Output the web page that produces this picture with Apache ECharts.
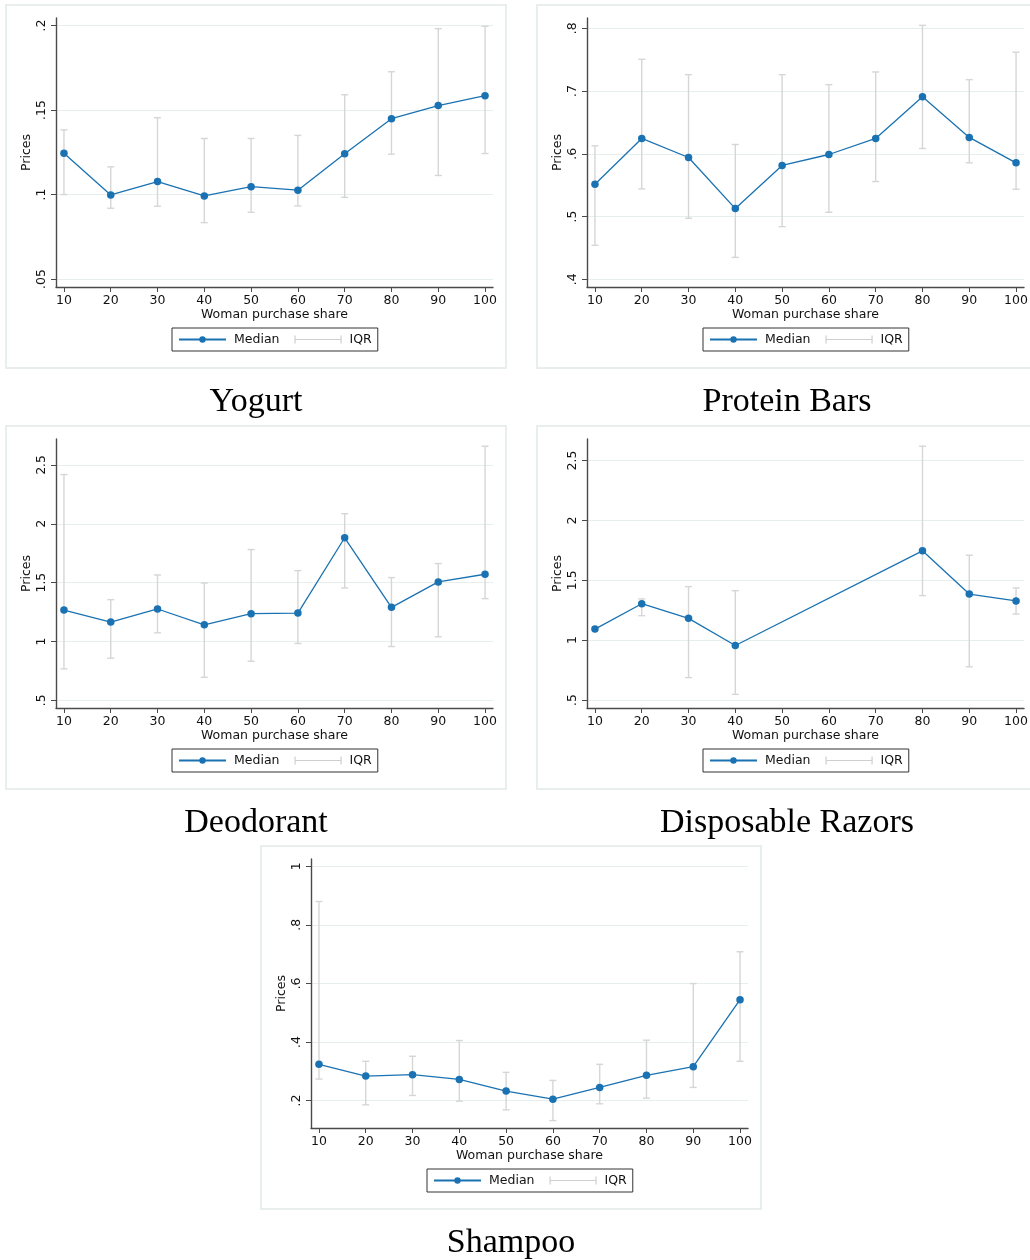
<!DOCTYPE html>
<html>
<head>
<meta charset="utf-8">
<script src="https://cdn.jsdelivr.net/npm/echarts@6/dist/echarts.min.js"></script>
<style>
  html, body { margin: 0; padding: 0; background: #ffffff; }
  #chart { width: 1030px; height: 1260px; }
</style>
</head>
<body>
<div id="chart"></div>
<script>
// Woman purchase share bins (x axis)
const shares = [10, 20, 30, 40, 50, 60, 70, 80, 90, 100];
const razorShares = [10, 20, 30, 40, 80, 90, 100];

// Yogurt
const yogurtMedian = [0.1245, 0.0998, 0.1077, 0.0992, 0.1047, 0.1026, 0.1241, 0.1449, 0.1527, 0.1585];
const yogurtLow    = [0.1000, 0.0919, 0.0931, 0.0834, 0.0895, 0.0933, 0.0984, 0.1239, 0.1113, 0.1243];
const yogurtHigh   = [0.1383, 0.1164, 0.1455, 0.1332, 0.1332, 0.1350, 0.1591, 0.1727, 0.1982, 0.1996];
const yogurtTicks  = [0.05, 0.1, 0.15, 0.2];

// Protein Bars
const proteinMedian = [0.5515, 0.6245, 0.5941, 0.5127, 0.5814, 0.5989, 0.6245, 0.6911, 0.6261, 0.5856];
const proteinLow    = [0.4541, 0.5441, 0.4972, 0.4349, 0.4839, 0.5068, 0.5558, 0.6085, 0.5856, 0.5435];
const proteinHigh   = [0.6128, 0.7507, 0.7262, 0.6149, 0.7262, 0.7103, 0.7305, 0.8048, 0.7182, 0.7619];
const proteinTicks  = [0.4, 0.5, 0.6, 0.7, 0.8];

// Deodorant
const deodorantMedian = [1.267, 1.165, 1.276, 1.142, 1.236, 1.241, 1.881, 1.290, 1.506, 1.571];
const deodorantLow    = [0.767, 0.858, 1.074, 0.696, 0.832, 0.983, 1.455, 0.957, 1.040, 1.364];
const deodorantHigh   = [2.418, 1.355, 1.565, 1.497, 1.781, 1.602, 2.085, 1.543, 1.662, 2.659];
const deodorantTicks  = [0.5, 1, 1.5, 2, 2.5];

// Disposable Razors (no observations in the 50-70 bins)
const razorMedian = [1.092, 1.304, 1.182, 0.955, 1.746, 1.385, 1.327];
const razorLow    = [null, 1.204, 0.687, 0.547, 1.372, 0.777, 1.218];
const razorHigh   = [null, 1.344, 1.447, 1.413, 2.620, 1.709, 1.436];
const razorTicks  = [0.5, 1, 1.5, 2, 2.5];

// Shampoo
const shampooMedian = [0.3236, 0.2835, 0.2881, 0.2721, 0.2320, 0.2046, 0.2446, 0.2858, 0.3156, 0.5445];
const shampooLow    = [0.2732, 0.1851, 0.2172, 0.1977, 0.1680, 0.1313, 0.1886, 0.2080, 0.2446, 0.3339];
const shampooHigh   = [0.8798, 0.3339, 0.3511, 0.4049, 0.2961, 0.2687, 0.3236, 0.4060, 0.5994, 0.7081];
const shampooTicks  = [0.2, 0.4, 0.6, 0.8, 1];

const titles = ['Yogurt', 'Protein Bars', 'Deodorant', 'Disposable Razors', 'Shampoo'];

// Panel content and placement
const panels = [
  { title: titles[0], x: shares, med: yogurtMedian, lo: yogurtLow, hi: yogurtHigh, ticks: yogurtTicks, yMin: 0.0453, yMax: 0.2045, dx: 0, dy: 0 },
  { title: titles[1], x: shares, med: proteinMedian, lo: proteinLow, hi: proteinHigh, ticks: proteinTicks, yMin: 0.3877, yMax: 0.8165, dx: 531, dy: 0 },
  { title: titles[2], x: shares, med: deodorantMedian, lo: deodorantLow, hi: deodorantHigh, ticks: deodorantTicks, yMin: 0.435, yMax: 2.72, dx: 0, dy: 421 },
  { title: titles[3], x: razorShares, med: razorMedian, lo: razorLow, hi: razorHigh, ticks: razorTicks, yMin: 0.433, yMax: 2.68, dx: 531, dy: 421 },
  { title: titles[4], x: shares, med: shampooMedian, lo: shampooLow, hi: shampooHigh, ticks: shampooTicks, yMin: 0.106, yMax: 1.025, dx: 255, dy: 841 }
];

const BLUE = '#1a72b2';
const IQR_GREY = '#d6d6d6';
const AXIS = '#4a4a4a';
const GRIDLINE = '#e6eeee';
const FRAME = '#e8eeee';
const SANS = '"DejaVu Sans", sans-serif';
const SERIF = '"Liberation Serif", "Times New Roman", serif';

function fmtTick(v) {
  return String(+(+v).toFixed(3)).replace(/^0\./, '.');
}

const grid = [], xAxis = [], yAxis = [], series = [], legend = [], graphic = [];

panels.forEach((p, i) => {
  // outer frame of the panel
  graphic.push({
    type: 'rect', silent: true, z: -1,
    shape: { x: 6 + p.dx, y: 5 + p.dy, width: 500, height: 363 },
    style: { fill: 'none', stroke: FRAME, lineWidth: 2 }
  });
  // panel caption
  graphic.push({
    type: 'text', silent: true,
    x: 256 + p.dx, y: 402 + p.dy,
    style: { text: p.title, font: '34px ' + SERIF, fill: '#000', textAlign: 'center', textVerticalAlign: 'middle' }
  });

  grid.push({ left: 56 + p.dx, top: 18 + p.dy, width: 437, height: 269, outerBoundsMode: 'none', containLabel: false });

  xAxis.push({
    gridIndex: i, type: 'value', min: 8.3, max: 101.7,
    name: 'Woman purchase share', nameLocation: 'middle', nameGap: 20,
    nameTextStyle: { fontFamily: SANS, fontSize: 12.5, color: '#111' },
    axisLine: { onZero: false, lineStyle: { color: AXIS, width: 1.4 } },
    axisTick: { customValues: shares, length: 5, lineStyle: { color: AXIS, width: 1 } },
    axisLabel: { customValues: shares, margin: 7, fontFamily: SANS, fontSize: 12.5, color: '#111' },
    splitLine: { show: false }
  });

  yAxis.push({
    gridIndex: i, type: 'value', min: p.yMin, max: p.yMax,
    name: 'Prices', nameLocation: 'middle', nameGap: 23,
    nameTextStyle: { fontFamily: SANS, fontSize: 12.5, color: '#111' },
    axisLine: { show: true, onZero: false, lineStyle: { color: AXIS, width: 1.4 } },
    axisTick: { show: true, customValues: p.ticks, length: 5, lineStyle: { color: AXIS, width: 1 } },
    axisLabel: { customValues: p.ticks, rotate: 90, margin: 8, fontFamily: SANS, fontSize: 12.5, color: '#111', formatter: fmtTick },
    splitLine: { show: true, lineStyle: { color: GRIDLINE, width: 1 } }
  });

  // interquartile range caps
  const iqr = [];
  p.x.forEach((xv, k) => {
    if (p.lo[k] != null && p.hi[k] != null) iqr.push([xv, p.lo[k], p.hi[k]]);
  });
  series.push({
    name: 'IQR', type: 'custom', xAxisIndex: i, yAxisIndex: i,
    itemStyle: { color: IQR_GREY },
    data: iqr,
    encode: { x: 0, y: [1, 2] },
    renderItem: function (params, api) {
      const a = api.coord([api.value(0), api.value(1)]);
      const b = api.coord([api.value(0), api.value(2)]);
      const w = 3.5;
      const st = { stroke: IQR_GREY, lineWidth: 1.4 };
      return {
        type: 'group',
        children: [
          { type: 'line', shape: { x1: a[0], y1: a[1], x2: b[0], y2: b[1] }, style: st },
          { type: 'line', shape: { x1: a[0] - w, y1: a[1], x2: a[0] + w, y2: a[1] }, style: st },
          { type: 'line', shape: { x1: b[0] - w, y1: b[1], x2: b[0] + w, y2: b[1] }, style: st }
        ]
      };
    }
  });

  // median line with markers
  series.push({
    name: 'Median', type: 'line', xAxisIndex: i, yAxisIndex: i,
    data: p.x.map((xv, k) => [xv, p.med[k]]),
    symbol: 'circle', symbolSize: 7.5,
    lineStyle: { color: BLUE, width: 1.3 },
    itemStyle: { color: BLUE },
    animation: false
  });

  legend.push({
    left: 172 + p.dx, top: 328 + p.dy,
    orient: 'horizontal',
    itemWidth: 47, itemHeight: 8, itemGap: 15,
    padding: [5, 6],
    borderColor: '#333', borderWidth: 1, borderRadius: 0,
    selectedMode: false,
    textStyle: { fontFamily: SANS, fontSize: 12.5, color: '#111', padding: [0, 0, 0, 3] },
    data: [
      { name: 'Median' },
      { name: 'IQR', icon: 'path://M0,0L0,8M0,4L46,4M46,0L46,8',
        itemStyle: { color: 'rgba(0,0,0,0)', borderColor: '#cfcfcf', borderWidth: 1.2 } }
    ]
  });
});

const chart = echarts.init(document.getElementById('chart'), null, { renderer: 'canvas' });
chart.setOption({
  animation: false,
  backgroundColor: '#ffffff',
  grid, xAxis, yAxis, series, legend, graphic
});
</script>
</body>
</html>
